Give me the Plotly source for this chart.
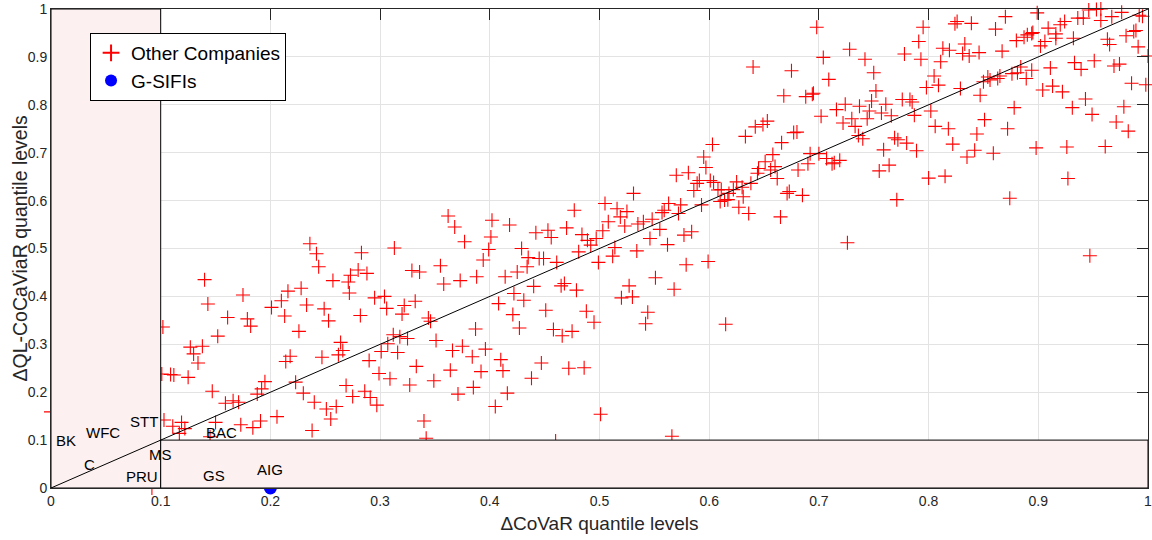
import plotly.graph_objects as go

# ---- Other companies (ΔCoVaR quantile, ΔQL-CoCaViaR quantile) ----
other_x = [
 0.102,0.140,0.143,0.161,0.175,0.179,0.182,0.152,0.127,0.130,0.134,0.138,0.101,0.109,0.112,0.125,0.147,0.159,0.166,0.171,
 0.188,0.192,0.195,0.103,0.111,0.119,0.117,0.122,0.150,0.173,0.184,0.191,0.206,0.238,0.145,0.201,0.210,0.213,0.216,0.228,
 0.226,0.233,0.236,0.242,0.244,0.214,0.218,0.223,0.230,0.240,0.247,0.249,0.253,0.251,0.255,0.260,0.257,0.271,0.273,0.280,
 0.288,0.283,0.272,0.282,0.264,0.262,0.266,0.269,0.275,0.286,0.291,0.297,0.290,0.295,0.304,0.306,0.313,0.299,0.301,0.307,
 0.312,0.316,0.309,0.320,0.322,0.332,0.325,0.318,0.329,0.336,0.333,0.327,0.340,0.342,0.344,0.346,0.351,0.349,0.355,0.358,
 0.362,0.368,0.377,0.373,0.366,0.375,0.364,0.371,0.384,0.385,0.388,0.387,
 0.396,0.392,0.405,0.410,0.412,0.416,0.408,0.421,0.427,0.422,0.431,0.414,0.425,0.434,0.429,0.435,0.440,0.394,0.399,0.401,
 0.402,0.418,0.442,0.453,0.456,0.445,0.449,0.461,0.470,0.477,0.484,0.481,0.489,0.492,0.497,0.499,0.503,0.505,0.508,0.516,
 0.519,0.525,0.523,0.514,0.512,0.531,0.534,0.535,0.540,0.548,0.546,0.555,0.557,0.559,0.563,0.570,0.574,0.572,0.562,0.581,
 0.586,0.589,0.591,0.595,0.597,0.593,0.577,0.584,0.579,0.599,0.551,0.568,0.527,0.520,0.530,0.544,0.542,0.615,0.501,0.566,
 0.451,0.465,0.468,0.479,0.488,0.495,0.458,0.466,0.475,0.447,0.472,0.486,0.438,0.460,0.601,0.604,0.608,0.611,0.610,0.614,
 0.617,0.618,0.622,0.625,0.630,0.631,0.627,0.636,0.638,0.645,0.651,0.644,0.656,0.658,0.660,0.662,0.665,0.671,0.673,0.681,
 0.640,0.603,0.633,0.642,0.649,0.653,0.675,0.668,0.677,0.680,0.666,
 0.688,0.694,0.695,0.690,0.692,0.685,0.698,0.704,0.709,0.702,0.700,0.707,0.712,0.714,0.719,0.716,0.724,0.722,0.730,0.733,
 0.736,0.740,0.737,0.728,0.742,0.750,0.752,0.748,0.746,0.744,0.757,0.761,0.766,0.755,0.764,0.759,0.769,0.772,0.780,0.771,
 0.789,0.787,0.776,0.783,0.785,0.778,0.795,0.791,0.793,0.811,0.805,0.809,0.798,0.802,0.806,0.818,0.822,0.800,0.815,0.835,
 0.842,0.844,0.859,0.851,0.847,0.850,0.856,0.863,0.865,0.854,0.829,0.813,0.819,0.831,0.837,0.846,0.833,0.824,0.826,0.839,
 0.861,0.870,0.867,0.878,0.872,0.874,0.898,0.880,0.887,0.890,0.894,0.895,0.899,0.902,0.906,0.909,0.916,0.916,0.920,0.924,
 0.932,0.904,0.913,0.922,0.911,0.931,0.926,0.927,0.933,0.939,0.951,0.943,0.949,0.961,0.971,0.978,0.982,0.985,0.998,0.969,
 0.974,0.963,0.965,0.980,0.987,0.989,0.991,0.992,0.995,1.000,0.936,0.941,0.946,0.953,0.957,0.957,0.967,0.976,0.947,0.726,
 0.876,0.881,0.884,0.889,0.894,
 0.000,0.092,
]
other_y = [
 0.336,0.435,0.384,0.356,0.403,0.353,0.338,0.317,0.294,0.280,0.261,0.296,0.238,0.237,0.236,0.231,0.202,0.177,0.182,0.179,
 0.196,0.207,0.222,0.142,0.129,0.137,0.114,0.124,0.137,0.132,0.126,0.140,0.149,0.120,0.107,0.377,0.391,0.359,0.411,0.417,
 0.327,0.382,0.510,0.489,0.462,0.264,0.275,0.221,0.198,0.179,0.273,0.374,0.349,0.165,0.144,0.170,0.433,0.430,0.444,0.455,
 0.448,0.491,0.407,0.360,0.304,0.278,0.287,0.214,0.191,0.202,0.189,0.173,0.266,0.397,0.400,0.375,0.501,0.239,0.285,0.301,
 0.320,0.283,0.228,0.363,0.381,0.390,0.312,0.316,0.454,0.451,0.254,0.215,0.140,0.104,0.355,0.348,0.308,0.224,0.464,0.426,
 0.568,0.545,0.514,0.433,0.287,0.296,0.246,0.196,0.274,0.210,0.441,0.332,
 0.290,0.243,0.170,0.268,0.245,0.198,0.385,0.362,0.334,0.406,0.392,0.441,0.451,0.462,0.500,0.481,0.421,0.476,0.498,0.524,
 0.559,0.549,0.533,0.538,0.523,0.479,0.479,0.471,0.543,0.580,0.529,0.493,0.517,0.507,0.521,0.471,0.537,0.594,0.556,0.583,
 0.566,0.577,0.547,0.502,0.484,0.615,0.495,0.551,0.556,0.561,0.521,0.540,0.575,0.580,0.594,0.653,0.591,0.573,0.508,0.658,
 0.621,0.636,0.642,0.691,0.669,0.591,0.528,0.535,0.466,0.473,0.439,0.415,0.422,0.397,0.399,0.367,0.343,0.342,0.154,0.108,
 0.371,0.422,0.427,0.413,0.369,0.346,0.331,0.318,0.327,0.261,0.250,0.251,0.229,0.098,0.642,0.638,0.622,0.623,0.598,0.601,
 0.602,0.615,0.623,0.639,0.628,0.608,0.586,0.573,0.636,0.667,0.681,0.657,0.664,0.696,0.671,0.646,0.566,0.615,0.619,0.664,
 0.879,0.717,0.734,0.754,0.759,0.766,0.871,0.819,0.742,0.743,0.721,
 0.817,0.822,0.824,0.677,0.698,0.611,0.962,0.899,0.853,0.776,0.698,0.688,0.677,0.679,0.684,0.790,0.801,0.762,0.771,0.755,
 0.736,0.729,0.797,0.916,0.895,0.867,0.829,0.808,0.787,0.771,0.783,0.801,0.777,0.662,0.674,0.706,0.731,0.727,0.720,0.602,
 0.704,0.778,0.811,0.811,0.806,0.906,0.962,0.932,0.895,0.890,0.860,0.841,0.836,0.787,0.755,0.750,0.718,0.647,0.651,0.691,
 0.705,0.739,0.699,0.769,0.820,0.848,0.852,0.855,0.860,0.858,0.834,0.918,0.914,0.907,0.902,0.909,0.927,0.969,0.974,0.970,
 0.958,0.984,0.912,0.794,0.750,0.605,0.710,0.934,0.941,0.946,0.949,0.951,0.992,0.923,0.932,0.960,0.939,0.948,0.967,0.974,
 0.939,0.831,0.839,0.827,0.877,0.794,0.712,0.646,0.888,0.874,0.892,0.812,0.780,0.713,0.764,0.796,0.745,0.845,0.842,0.881,
 0.885,0.937,0.926,0.944,0.953,0.955,0.921,0.987,0.985,0.902,0.981,0.981,0.998,0.999,1.000,0.976,0.984,0.993,0.485,0.512,
 0.865,0.867,0.879,0.855,0.872,
 0.159,0.000,
]

# ---- G-SIFIs ----
gsifi_names = ["JPM", "C", "BAC", "WFC", "GS", "MS", "BK", "STT", "MET", "PRU", "AIG"]
gsifi_x = [0.028, 0.040, 0.150, 0.050, 0.140, 0.110, 0.020, 0.080, 0.020, 0.085, 0.200]
gsifi_y = [0.012, 0.040, 0.050, 0.080, 0.020, 0.040, 0.070, 0.090, 0.030, 0.020, 0.000]
label_x = [0.038, 0.035, 0.155, 0.047, 0.149, 0.100, 0.0137, 0.085, -0.006, 0.083, 0.200]
label_y = [-0.019, 0.050, 0.115, 0.115, 0.027, 0.069, 0.100, 0.138, 0.038, 0.023, 0.038]

tick_vals = [0, 0.1, 0.2, 0.3, 0.4, 0.5, 0.6, 0.7, 0.8, 0.9, 1]
tick_text = ["0", "0.1", "0.2", "0.3", "0.4", "0.5", "0.6", "0.7", "0.8", "0.9", "1"]

FONT = "Liberation Sans, Arial, Helvetica, sans-serif"
AX = "#262626"
PINK = "#fdf0f0"

fig = go.Figure()
fig.add_trace(go.Scatter(
    x=other_x, y=other_y, mode="markers", name="Other Companies",
    marker=dict(symbol="cross-thin", size=10, color="red", line=dict(color="red", width=1.1)),
    cliponaxis=False,
))
fig.add_trace(go.Scatter(
    x=gsifi_x, y=gsifi_y, mode="markers", name="G-SIFIs", text=gsifi_names,
    marker=dict(symbol="circle", size=13, color="blue"),
    cliponaxis=False,
))

shapes = [
    dict(type="rect", xref="x", yref="y", x0=0, x1=0.1, y0=0, y1=1,
         fillcolor=PINK, line=dict(color="black", width=1), layer="above"),
    dict(type="rect", xref="x", yref="y", x0=0.1, x1=1, y0=0, y1=0.1,
         fillcolor=PINK, line=dict(color="black", width=1), layer="above"),
    dict(type="line", xref="x", yref="y", x0=0, y0=0, x1=1, y1=1,
         line=dict(color="black", width=1), layer="above"),
]

annotations = [
    dict(x=lx, y=ly, xref="x", yref="y", text=n, showarrow=False,
         font=dict(family=FONT, size=15, color="black"), xanchor="center", yanchor="middle")
    for n, lx, ly in zip(gsifi_names, label_x, label_y)
]
# y-axis title as rotated annotation (placed like the reference)
annotations.append(dict(
    x=0, y=0.5, xref="paper", yref="paper", xanchor="center", yanchor="middle",
    xshift=-32, text="ΔQL-CoCaViaR quantile levels", textangle=-90, showarrow=False,
    font=dict(family=FONT, size=19.5, color=AX),
))

axis_common = dict(
    range=[0, 1], tickvals=tick_vals, ticktext=tick_text,
    ticks="inside", ticklen=11, tickcolor=AX, tickwidth=1,
    showline=True, linecolor=AX, linewidth=1, mirror="ticks",
    showgrid=True, gridcolor="#e3e3e3", gridwidth=1, zeroline=False,
    tickfont=dict(family=FONT, size=14, color=AX), automargin=False,
    ticklabeloverflow="allow",
)

fig.update_layout(
    width=1152, height=540,
    margin=dict(l=51, r=4, t=9, b=52),
    paper_bgcolor="white", plot_bgcolor="white",
    font=dict(family=FONT, color=AX),
    xaxis=dict(**axis_common,
               title=dict(text="ΔCoVaR quantile levels", font=dict(family=FONT, size=19, color=AX), standoff=8)),
    yaxis=dict(**axis_common),
    shapes=shapes,
    annotations=annotations,
    showlegend=True,
    legend=dict(x=0.0356, y=0.95, xanchor="left", yanchor="top",
                bgcolor="white", bordercolor="black", borderwidth=1,
                font=dict(family=FONT, size=19, color="black"),
                itemsizing="constant", tracegroupgap=0),
)

fig.write_html("out.html")
